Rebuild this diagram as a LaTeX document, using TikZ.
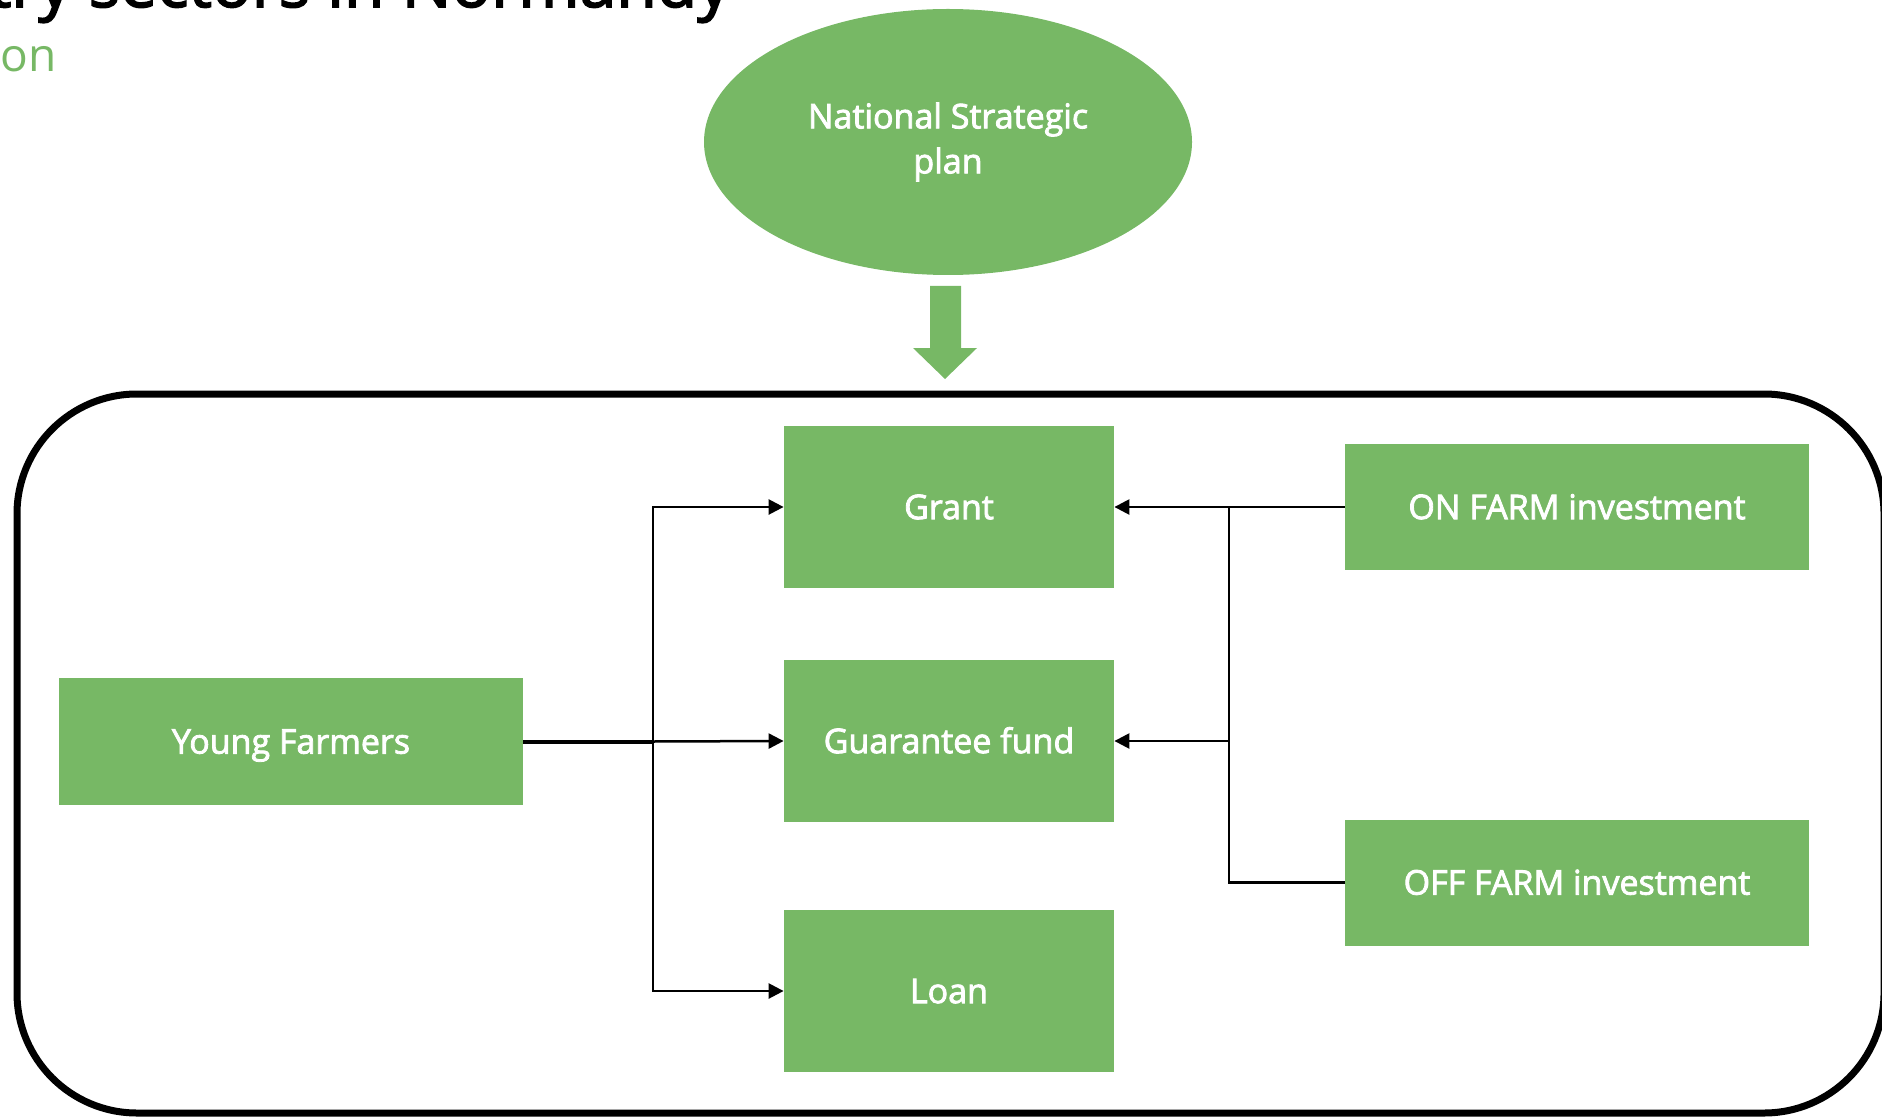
\documentclass[tikz,border=0pt]{standalone}
\usepackage{fontspec}
\setmainfont{Open Sans}
\newfontfamily\boitefont{Open Sans}[FakeBold=2.4]
\usetikzlibrary{shapes.geometric,arrows.meta}
\definecolor{fgvert}{HTML}{77B865}

\begin{document}
\begin{tikzpicture}[x=0.5pt,y=-0.5pt,
    boite/.style={fill=fgvert,text=white,inner sep=0pt,font=\boitefont\fontsize{17}{22.5}\selectfont,
      text height=12.1pt,text depth=0pt},
    lien/.style={line width=1.25pt},
    fleche/.style={line width=1.25pt,-{Triangle[length=7.5pt,width=7.5pt]}}]
  \useasboundingbox (0,0) rectangle (1882,1117);
  % titre (coupé en haut)
  \node[anchor=base east,inner sep=0pt,font=\boitefont\fontsize{33}{40}\selectfont] (titre) at (731,7) {try sectors in Normandy};
  \node[anchor=base west,inner sep=0pt,text=fgvert,font=\fontsize{23}{28}\selectfont] (soustitre) at (0,72) {on};
  % plan national + grosse flèche
  \node[boite,ellipse,minimum width=244pt,minimum height=133pt,align=center,
    text height=,text depth=,yshift=-1.5pt] (nsp) at (948,139) {National Strategic\\plan};
  \fill[fgvert] (930,286) -- (961,286) -- (961,348) -- (977,348) -- (945,379) -- (913,348) -- (930,348) -- cycle;
  % cadre
  \draw[line width=3.5pt,rounded corners=60pt] (17,394) rectangle (1884,1113);
  % instruments : nom / y / texte
  \foreach \n/\y/\lab in {grant/507/Grant, gfund/741/Guarantee fund, loan/991/Loan} {
    \node[boite,minimum width=165pt,minimum height=81pt] (\n) at (949,\y) {\lab};
  }
  \node[boite,minimum width=232pt,minimum height=63.5pt] (yfarm) at (291,741.5) {Young Farmers};
  \node[boite,minimum width=232pt,minimum height=63pt] (onfarm) at (1577,507) {ON FARM investment};
  \node[boite,minimum width=232pt,minimum height=63pt] (offfarm) at (1577,882.5) {OFF FARM investment};
  % liaisons gauche
  \coordinate (jl) at (653,741.5);
  \draw[line width=2pt] (yfarm.east) -- (jl);
  \draw[fleche] (jl) |- (grant.west);
  \draw[fleche] (jl) -- (gfund.west);
  \draw[fleche] (jl) |- (loan.west);
  % liaisons droite
  \coordinate (jr) at (1229,741);
  \draw[fleche] (onfarm.west) -- (grant.east);
  \draw[lien] (offfarm.west) -| (jr) -- (jr |- onfarm.west);
  \draw[fleche] (jr) -- (gfund.east);
\end{tikzpicture}
\end{document}
